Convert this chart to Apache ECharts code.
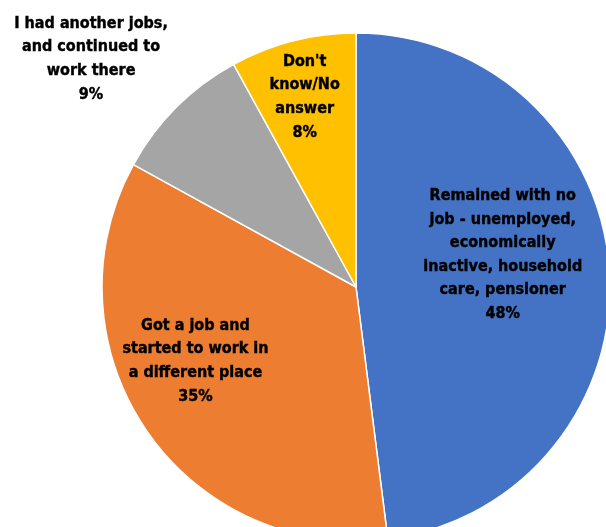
<!DOCTYPE html>
<html><head><meta charset="utf-8">
<script src="https://cdn.jsdelivr.net/npm/echarts@6/dist/echarts.min.js"></script>
<style>html,body{margin:0;padding:0;background:#fff}#c{width:606px;height:527px}</style>
</head><body><div id="c"></div>
<script>
const categories = [
  "Remained with no\njob - unemployed,\neconomically\ninactive, household\ncare, pensioner",
  "Got a job and\nstarted to work in\na different place",
  "I had another jobs,\nand continued to\nwork there",
  "Don't\nknow/No\nanswer"
];
const values = [48, 35, 9, 8];
const colors = ['#4472C4', '#ED7D31', '#A5A5A5', '#FFC000'];
const labelShift = [[17, -24], [-53, 1], [-173, -136], [-19, -64]];

const chart = echarts.init(document.getElementById('c'), null, {renderer: 'canvas'});
chart.setOption({
  animation: false,
  series: [{
    type: 'pie',
    center: [356, 287],
    radius: [0, 254],
    startAngle: 90,
    clockwise: true,
    data: categories.map((n, i) => ({name: n, value: values[i], itemStyle: {color: colors[i]}})),
    itemStyle: {borderColor: '#fff', borderWidth: 1.5},
    label: {
      show: true,
      position: 'inside',
      formatter: p => p.name + '\n' + p.value + '%',
      fontFamily: 'DejaVu Sans Condensed',
      fontWeight: 'bold',
      fontSize: 16,
      lineHeight: 23.6,
      color: '#000',
      textBorderColor: '#000',
      textBorderWidth: 0.4,
      align: 'center'
    },
    labelLine: {show: false},
    labelLayout: p => ({dx: labelShift[p.dataIndex][0], dy: labelShift[p.dataIndex][1]}),
    emphasis: {disabled: true}
  }]
});
</script></body></html>
